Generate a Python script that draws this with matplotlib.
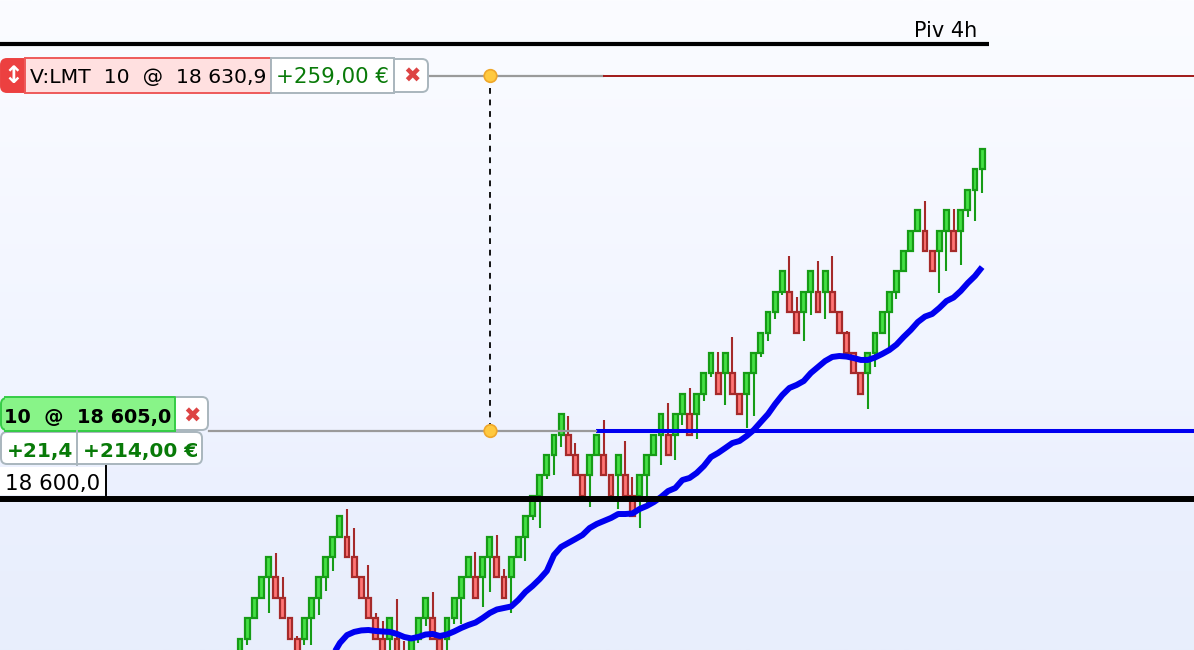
import numpy as np
import matplotlib
matplotlib.use('Agg')
import matplotlib.pyplot as plt
from matplotlib.colors import LinearSegmentedColormap
from matplotlib.patches import FancyBboxPatch, Rectangle, Circle

# prices are stored without the leading 18000
BASE = 18000

opens = [588.2, 589.7, 591.2, 592.7, 594.2, 594.2, 592.7, 591.2, 589.7, 589.7,
         591.2, 592.7, 594.2, 595.7, 597.2, 597.2, 595.7, 594.2, 592.7, 591.2,
         589.7, 589.7, 589.7, 588.2, 588.2, 589.7, 591.2, 591.2, 589.7, 589.7,
         591.2, 592.7, 594.2, 594.2, 594.2, 595.7, 595.7, 594.2, 594.2, 595.7,
         597.2, 598.7, 600.2, 601.7, 603.2, 604.7, 604.7, 603.2, 601.7, 601.7,
         603.2, 603.2, 601.7, 601.7, 601.7, 600.2, 600.2, 601.7, 603.2, 604.7,
         604.7, 604.7, 606.2, 606.2, 606.2, 607.7, 609.2, 609.2, 609.2, 609.2,
         607.7, 607.7, 609.2, 610.7, 612.2, 613.7, 615.2, 615.2, 613.7, 613.7,
         615.2, 615.2, 615.2, 615.2, 613.7, 612.2, 610.7, 609.2, 609.2, 610.7,
         612.2, 613.7, 615.2, 616.7, 618.2, 619.7, 619.7, 618.2, 618.2, 619.7,
         619.7, 619.7, 621.2, 622.7, 624.2]
closes = [589.7, 591.2, 592.7, 594.2, 595.7, 592.7, 591.2, 589.7, 588.2, 591.2,
          592.7, 594.2, 595.7, 597.2, 598.7, 595.7, 594.2, 592.7, 591.2, 589.7,
          588.2, 591.2, 588.2, 586.7, 589.7, 591.2, 592.7, 589.7, 588.2, 591.2,
          592.7, 594.2, 595.7, 592.7, 595.7, 597.2, 594.2, 592.7, 595.7, 597.2,
          598.7, 600.2, 601.7, 603.2, 604.7, 606.2, 603.2, 601.7, 600.2, 603.2,
          604.7, 601.7, 600.2, 603.2, 600.2, 598.7, 601.7, 603.2, 604.7, 606.2,
          603.2, 606.2, 607.7, 604.7, 607.7, 609.2, 610.7, 607.7, 610.7, 607.7,
          606.2, 609.2, 610.7, 612.2, 613.7, 615.2, 616.7, 613.7, 612.2, 615.2,
          616.7, 613.7, 616.7, 613.7, 612.2, 610.7, 609.2, 607.7, 610.7, 612.2,
          613.7, 615.2, 616.7, 618.2, 619.7, 621.2, 618.2, 616.7, 619.7, 621.2,
          618.2, 621.2, 622.7, 624.2, 625.7]
highs = [589.7, 591.2, 592.7, 594.2, 595.7, 596.0, 594.2, 591.2, 589.9, 591.2,
         592.7, 594.2, 595.7, 597.2, 598.7, 599.2, 597.8, 594.2, 595.1, 591.6,
         591.0, 591.2, 592.6, 589.5, 589.7, 591.2, 592.7, 593.1, 589.7, 591.2,
         592.7, 594.2, 595.7, 596.1, 595.7, 597.2, 597.3, 594.8, 595.7, 597.2,
         598.7, 600.2, 601.7, 603.2, 604.7, 606.2, 606.1, 604.1, 601.7, 603.2,
         604.7, 605.8, 601.7, 603.2, 604.2, 601.6, 601.7, 603.2, 604.7, 606.2,
         607.0, 606.2, 607.7, 608.1, 607.7, 609.2, 610.7, 610.8, 610.7, 611.9,
         607.7, 609.2, 610.7, 612.2, 613.7, 615.2, 616.7, 617.8, 614.8, 615.2,
         616.7, 617.5, 616.7, 617.8, 613.8, 612.3, 610.8, 609.2, 610.7, 612.2,
         613.7, 615.2, 616.7, 618.2, 619.7, 621.2, 621.9, 618.2, 619.7, 621.2,
         621.3, 621.2, 622.7, 624.2, 625.7]
lows = [588.2, 589.2, 591.2, 592.7, 591.6, 592.7, 591.2, 589.7, 588.2, 589.2,
        589.2, 591.4, 593.2, 594.7, 597.2, 595.7, 594.2, 592.7, 591.2, 589.7,
        588.2, 587.5, 588.2, 586.7, 587.5, 589.4, 590.6, 589.7, 588.2, 587.5,
        590.8, 590.8, 594.2, 592.7, 592.0, 593.1, 594.2, 592.7, 591.6, 595.7,
        595.4, 598.4, 597.8, 601.4, 601.7, 603.8, 603.2, 601.7, 600.2, 599.4,
        603.2, 601.7, 600.2, 599.2, 600.2, 598.7, 597.8, 599.7, 603.2, 602.5,
        603.2, 602.8, 605.4, 604.7, 604.4, 607.2, 608.9, 607.7, 606.9, 607.7,
        606.2, 605.2, 606.1, 610.4, 611.6, 613.2, 615.0, 613.7, 612.2, 611.6,
        613.5, 613.7, 613.2, 613.7, 612.2, 610.7, 609.2, 607.7, 606.6, 609.7,
        612.2, 611.1, 614.7, 616.7, 618.2, 619.7, 618.2, 616.7, 615.1, 616.7,
        618.2, 617.2, 620.7, 620.4, 622.5]

# moving average, starts at bar 13
ma_start = 13
ma_values = [588.49, 589.38, 589.96, 590.19, 590.30, 590.33, 590.26, 590.22, 590.19, 590.04,
             589.82, 589.71, 589.82, 590.00, 590.04, 589.89, 590.00, 590.22, 590.48, 590.70,
             590.88, 591.21, 591.58, 591.84, 591.95, 592.06, 592.54, 593.13, 593.57, 594.08,
             594.67, 595.85, 596.44, 596.73, 597.02, 597.32, 597.83, 598.13, 598.35, 598.57,
             598.86, 598.86, 598.90, 599.23, 599.45, 599.74, 600.11, 600.55, 600.77, 601.36,
             601.51, 601.88, 602.39, 603.05, 603.35, 603.71, 604.08, 604.23, 604.60, 605.04,
             605.63, 606.21, 606.95, 607.61, 608.13, 608.35, 608.64, 609.23, 609.67, 610.11,
             610.41, 610.48, 610.44, 610.33, 610.19, 610.19, 610.37, 610.63, 610.92, 611.32,
             611.88, 612.39, 612.98, 613.38, 613.57, 614.01, 614.52, 614.78, 615.26, 615.85,
             616.36, 617.02]

pivot_level = 18633.4
pivot_label = 'Piv 4h'
s1_level = 18600.0
entry_level = 18605.0
target_level = 18631.0
blue_start_bar = 49.9

W, H = 1194, 650
fig = plt.figure(figsize=(W / 100, H / 100), dpi=100)
ax = fig.add_axes([0, 0, 1, 1])
ax.set_xlim(-33.64, 133.7)
ax.set_ylim(BASE + 588.86, BASE + 636.66)
ax.axis('off')

# background gradient
cmap = LinearSegmentedColormap.from_list('bg', [(0, '#fbfcff'), (0.6, '#f0f4ff'), (0.76, '#ebf0fe'), (1, '#e8eefc')])
ax.imshow(np.linspace(0, 1, 256).reshape(-1, 1), cmap=cmap, aspect='auto', zorder=0,
          extent=(-33.64, 133.7, BASE + 588.86, BASE + 636.66), origin='upper')

o = np.array(opens) + BASE
c = np.array(closes) + BASE
hi = np.array(highs) + BASE
lo = np.array(lows) + BASE
x = np.arange(len(o))
up = c > o

# candles
ax.vlines(x[up], lo[up], hi[up], color='#169c16', lw=1.5, zorder=2, capstyle='butt')
ax.vlines(x[~up], lo[~up], hi[~up], color='#a52a2a', lw=1.5, zorder=2, capstyle='butt')
ax.bar(x[up], (c - o)[up], bottom=o[up], width=0.68, color='#45e045', edgecolor='#169c16', lw=1.6, zorder=3)
ax.bar(x[~up], (o - c)[~up], bottom=c[~up], width=0.68, color='#ff7575', edgecolor='#a52a2a', lw=1.6, zorder=3)

# moving average
ax.plot(np.arange(ma_start, ma_start + len(ma_values)), np.array(ma_values) + BASE,
        color='#0000f0', lw=4.3, zorder=4, solid_capstyle='butt')

# price levels
ax.plot([-33.64, 105.0], [pivot_level, pivot_level], color='black', lw=3, zorder=5, solid_capstyle='butt')
ax.plot([-33.64, 133.7], [s1_level, s1_level], color='black', lw=4.3, zorder=5, solid_capstyle='butt')
ax.plot([blue_start_bar, 133.7], [entry_level, entry_level], color='#0000f0', lw=2.9, zorder=4, solid_capstyle='butt')

# overlay in pixels for the order widgets
ov = fig.add_axes([0, 0, 1, 1])
ov.set_xlim(0, W)
ov.set_ylim(H, 0)
ov.axis('off')
ov.patch.set_alpha(0)


def box(x0, y0, x1, y1, fc, ec, lw=1.4, rounded=False):
    if rounded:
        p = FancyBboxPatch((x0 + 1, y0 + 1), x1 - x0 - 2, y1 - y0 - 2, boxstyle='round,pad=0,rounding_size=6',
                           fc=fc, ec=ec, lw=lw, zorder=6)
    else:
        p = Rectangle((x0, y0), x1 - x0, y1 - y0, fc=fc, ec=ec, lw=lw, zorder=7)
    ov.add_patch(p)


GREEN = '#087a08'
GREY = '#a9b6bd'

# connecting lines
ov.plot([429, 603], [76, 76], color='#9a9a9a', lw=1.6, zorder=5)
ov.plot([604, W], [75.5, 75.5], color='#a01818', lw=1.4, zorder=5)
ov.plot([209, 596], [430.5, 430.5], color='#9a9a9a', lw=1.6, zorder=5)
ov.plot([490, 490], [88, 425], color='black', lw=1.3, ls=(0, (3.2, 3.2)), zorder=5)
for yy in [76, 431]:
    ov.add_patch(Circle((490.5, yy), 6.3, fc='#ffc93f', ec='#efa72a', lw=1.2, zorder=6))

# sell limit order
box(0, 58, 30, 93, '#ec4040', '#ec4040', rounded=True)
box(385, 58, 429, 93, 'white', GREY, rounded=True)
box(25, 58, 271, 93, '#ffe0e0', '#ee5a5a')
box(271, 58, 394, 93, 'white', GREY)
ov.text(13, 76, '↕', color='white', fontsize=17, fontweight='bold', ha='center', va='center', zorder=8)
ov.text(148, 77, 'V:LMT  10  @  18 630,9', color='black', fontsize=14.7, ha='center', va='center', zorder=8)
ov.text(333, 77, '+259,00 €', color=GREEN, fontsize=15.4, ha='center', va='center', zorder=8)
ov.text(412, 77, '✖', color='#dd4444', fontsize=15, ha='center', va='center', zorder=8)

# position
box(150, 396, 209, 431, 'white', GREY, rounded=True)
box(0, 397, 30, 431, '#88f488', '#35cc45', rounded=True)
box(5, 397, 175, 431, '#88f488', '#35cc45', lw=0)
ov.plot([5, 175, 175], [397, 397, 431], color='#35cc45', lw=1.4, zorder=8)
ov.plot([5, 175], [431, 431], color='#35cc45', lw=1.4, zorder=8)
ov.text(88, 417, '10  @  18 605,0', color='black', fontsize=13.9, fontweight='bold', ha='center', va='center', zorder=8)
ov.text(192, 417, '✖', color='#dd4444', fontsize=15, ha='center', va='center', zorder=8)
box(0, 431, 203, 465, 'white', GREY, rounded=True)
ov.plot([77, 77], [431, 465], color=GREY, lw=1.4, zorder=8)
ov.text(40, 451, '+21,4', color=GREEN, fontsize=14.5, fontweight='bold', ha='center', va='center', zorder=8)
ov.text(140.5, 451, '+214,00 €', color=GREEN, fontsize=14.5, fontweight='bold', ha='center', va='center', zorder=8)

# level labels
ov.add_patch(Rectangle((0, 467), 105, 28, fc='white', ec='none', zorder=6))
ov.plot([105.5, 105.5], [466, 495], color='black', lw=1.4, zorder=7)
ov.text(53, 484, '18 600,0', color='black', fontsize=15.4, ha='center', va='center', zorder=8)
ov.text(945.5, 31, pivot_label, color='black', fontsize=15, ha='center', va='center', zorder=8)

fig.savefig('out.png', dpi=100)
